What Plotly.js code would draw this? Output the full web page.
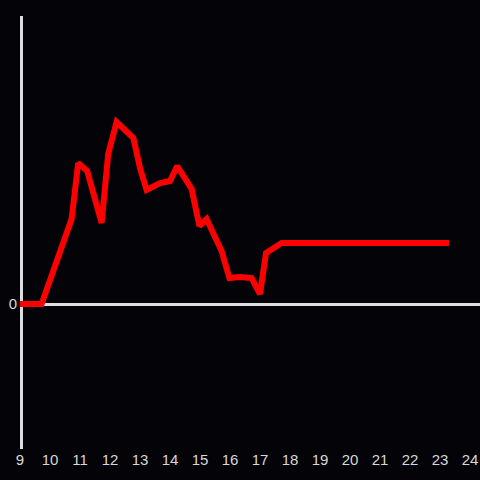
<!DOCTYPE html>
<html>
<head>
<meta charset="utf-8">
<script src="https://cdn.plot.ly/plotly-3.0.1.min.js"></script>
<style>html,body{margin:0;padding:0;background:#040307;}#chart{width:480px;height:480px;}</style>
</head>
<body>
<div id="chart"></div>
<script>
const xValues = [9.0, 9.72, 10.72, 10.94, 11.24, 11.72, 11.94, 12.22, 12.78, 13.0, 13.22, 13.67, 14.0, 14.24, 14.72, 14.98, 15.22, 15.72, 15.98, 16.33, 16.72, 17.0, 17.2, 17.72, 23.3];
const yValues = [0, 0, 0.85, 1.41, 1.33, 0.81, 1.50, 1.82, 1.66, 1.36, 1.14, 1.21, 1.23, 1.38, 1.15, 0.78, 0.85, 0.53, 0.26, 0.27, 0.26, 0.10, 0.51, 0.61, 0.61];
const xTicks = [9, 10, 11, 12, 13, 14, 15, 16, 17, 18, 19, 20, 21, 22, 23, 24];

Plotly.newPlot('chart', [{
  x: xValues, y: yValues, type: 'scatter', mode: 'lines',
  line: {color: '#ff0000', width: 6},
  cliponaxis: false, hoverinfo: 'skip'
}], {
  width: 480, height: 480,
  paper_bgcolor: '#040307', plot_bgcolor: '#040307',
  margin: {l: 20, r: 0, t: 16, b: 31},
  showlegend: false,
  font: {family: 'Liberation Sans, Arial, sans-serif', size: 15, color: '#d8d8d8'},
  xaxis: {range: [9, 9 + 460/30], tickvals: xTicks, ticktext: xTicks.map(String), showgrid: false, zeroline: false, showline: false, ticks: '', tickfont: {size: 15, color: '#d8d8d8'}},
  yaxis: {anchor: 'free', position: 0.0025, range: [-1.45, 2.88], tickvals: [0], ticktext: ['0'], showgrid: false, zeroline: true, zerolinecolor: '#dddddd', zerolinewidth: 3, showline: true, linecolor: '#dddddd', linewidth: 3, layer: 'below traces', ticks: '', tickfont: {size: 15, color: '#d8d8d8'}}
}, {staticPlot: true, displayModeBar: false});
</script>
</body>
</html>
